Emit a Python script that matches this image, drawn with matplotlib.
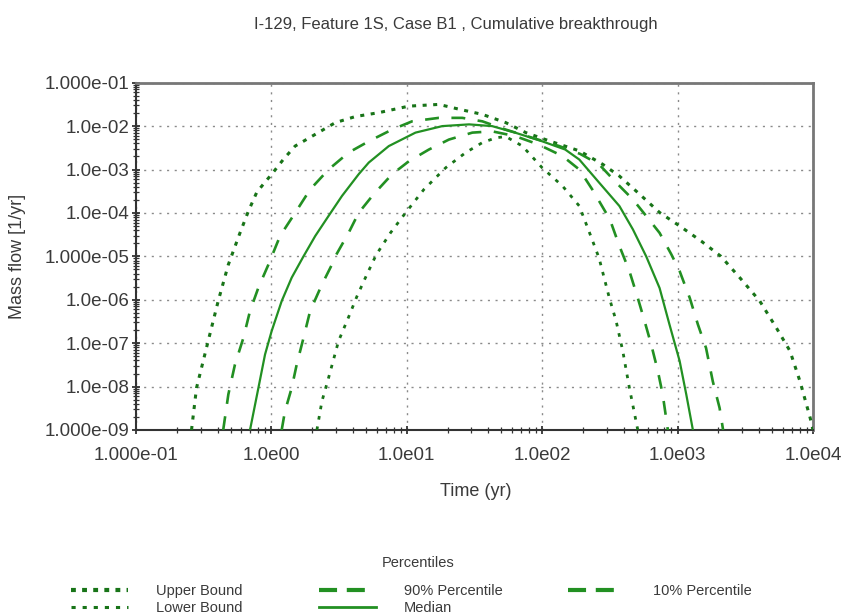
import numpy as np
import matplotlib
matplotlib.use("Agg")
import matplotlib.pyplot as plt
from matplotlib.lines import Line2D

plt.rcParams['font.family'] = ['Liberation Sans', 'DejaVu Sans']
plt.rcParams['lines.scale_dashes'] = False

# ---- data (log10 of time [yr] and log10 of mass flow [1/yr]) ----
upper_logt = [-0.59, -0.553, -0.467, -0.393, -0.318, -0.232, -0.170, -0.109, -0.05, 0.002, 0.09, 0.175, 0.324,
              0.472, 0.62, 0.793, 1.015, 1.237, 1.385, 1.558, 1.731, 1.879, 2.052, 2.274, 2.447,
              2.57, 2.72, 2.867, 3.015, 3.175, 3.32, 3.459, 3.607, 3.73, 3.83, 3.904, 3.979, 4.0]
upper_logq = [-9.0, -8.03, -6.95, -6.03, -5.19, -4.46, -3.96, -3.53, -3.30, -3.11, -2.76, -2.46, -2.19,
              -1.92, -1.78, -1.69, -1.54, -1.50, -1.61, -1.73, -1.92, -2.15, -2.34, -2.57, -2.88,
              -3.15, -3.57, -3.99, -4.30, -4.65, -5.0, -5.49, -6.03, -6.65, -7.18, -7.88, -8.72, -9.0]

lower_logt = [0.336, 0.373, 0.422, 0.496, 0.57, 0.632, 0.699, 0.773, 0.879, 0.99, 1.126, 1.287,
              1.435, 1.558, 1.657, 1.731, 1.854, 2.0, 2.15, 2.274, 2.35, 2.42, 2.496, 2.546,
              2.595, 2.644, 2.706]
lower_logq = [-9.0, -8.34, -7.80, -6.95, -6.40, -5.92, -5.46, -4.97, -4.46, -4.0, -3.46, -2.96,
              -2.61, -2.38, -2.27, -2.24, -2.46, -2.96, -3.38, -3.84, -4.46, -5.04, -5.96, -6.49,
              -7.18, -8.03, -9.0]

median_logt = [-0.158, -0.096, -0.047, 0.002, 0.076, 0.150, 0.237, 0.324, 0.422, 0.521, 0.644,
               0.719, 0.867, 1.064, 1.262, 1.46, 1.63, 1.80, 2.0, 2.17, 2.274, 2.42, 2.57, 2.67,
               2.768, 2.867, 2.94, 3.015, 3.064, 3.113]
median_logq = [-9.0, -8.03, -7.26, -6.72, -6.03, -5.49, -5.0, -4.53, -4.07, -3.61, -3.11,
               -2.84, -2.46, -2.15, -2.0, -1.96, -2.0, -2.15, -2.35, -2.54, -2.77, -3.30, -3.84, -4.38,
               -5.0, -5.73, -6.57, -7.41, -8.18, -9.0]

p90_logt = [-0.356, -0.318, -0.269, -0.207, -0.158, -0.096, -0.022, 0.064, 0.175, 0.286, 0.422,
            0.57, 0.719, 0.891, 1.039, 1.237, 1.41, 1.558, 1.73, 1.928, 2.126, 2.28, 2.42, 2.546, 2.67,
            2.768, 2.867, 2.953, 3.015, 3.09, 3.15, 3.21, 3.26, 3.31, 3.336]
p90_logq = [-9.0, -8.18, -7.49, -6.88, -6.26, -5.72, -5.19, -4.53, -4.0, -3.46, -3.0,
            -2.61, -2.35, -2.08, -1.89, -1.81, -1.81, -1.89, -2.08, -2.27, -2.46, -2.64, -2.88, -3.30, -3.69,
            -4.07, -4.46, -4.95, -5.34, -5.96, -6.57, -7.11, -7.88, -8.49, -9.0]

p10_logt = [0.076, 0.10, 0.150, 0.187, 0.237, 0.286, 0.373, 0.447, 0.472, 0.57, 0.644, 0.755,
            0.891, 1.015, 1.163, 1.311, 1.484, 1.63, 1.80, 1.97, 2.15, 2.274, 2.37, 2.50, 2.57,
            2.644, 2.706, 2.756, 2.805, 2.854, 2.89, 2.928]
p10_logq = [-9.0, -8.57, -8.03, -7.49, -6.88, -6.26, -5.65, -5.19, -5.0, -4.46, -4.0, -3.57,
            -3.11, -2.81, -2.54, -2.31, -2.15, -2.12, -2.23, -2.42, -2.69, -3.0, -3.46, -4.15, -4.76,
            -5.34, -5.96, -6.49, -7.03, -7.64, -8.18, -9.0]

x_ticks = [1e-1, 1e0, 1e1, 1e2, 1e3, 1e4]
x_tick_labels = ["1.000e-01", "1.0e00", "1.0e01", "1.0e02", "1.0e03", "1.0e04"]
y_ticks = [1e-1, 1e-2, 1e-3, 1e-4, 1e-5, 1e-6, 1e-7, 1e-8, 1e-9]
y_tick_labels = ["1.000e-01", "1.0e-02", "1.0e-03", "1.0e-04", "1.000e-05",
                 "1.0e-06", "1.0e-07", "1.0e-08", "1.000e-09"]

title = "I-129, Feature 1S, Case B1 , Cumulative breakthrough"
series_labels = ["Upper Bound", "Lower Bound", "90% Percentile", "Median", "10% Percentile"]

GREEN = "#229022"
DKGREEN = "#187418"
TXT = "#3a3a3a"

W, H = 843, 614
fig = plt.figure(figsize=(W / 100, H / 100), dpi=100)
ax = fig.add_axes([136 / W, 1 - 430 / H, (813 - 136) / W, (430 - 82.7) / H])
ax.set_xscale("log")
ax.set_yscale("log")
ax.set_xlim(1e-1, 1e4)
ax.set_ylim(1e-9, 1e-1)

def tv(a):
    return np.power(10.0, np.asarray(a))

dot_up = (0, (2.9, 4.7))
dot_lo = (0, (2.6, 5.0))
dash = (0, (10.0, 9.0))

ax.plot(tv(upper_logt), tv(upper_logq), color=DKGREEN, lw=2.2, linestyle=dot_up, zorder=3)
ax.plot(tv(lower_logt), tv(lower_logq), color=DKGREEN, lw=2.0, linestyle=dot_lo, zorder=3)
ax.plot(tv(p90_logt), tv(p90_logq), color=GREEN, lw=1.9, linestyle=dash, zorder=3)
ax.plot(tv(p10_logt), tv(p10_logq), color=GREEN, lw=1.9, linestyle=dash, zorder=3)
ax.plot(tv(median_logt), tv(median_logq), color=GREEN, lw=1.6, linestyle="-", zorder=3)

ax.set_xticks(x_ticks)
ax.set_xticklabels(x_tick_labels)
ax.set_yticks(y_ticks)
ax.set_yticklabels(y_tick_labels)
ax.xaxis.set_minor_locator(matplotlib.ticker.LogLocator(base=10, subs=np.arange(2, 10)))
ax.yaxis.set_minor_locator(matplotlib.ticker.LogLocator(base=10, subs=np.arange(2, 10)))
ax.xaxis.set_minor_formatter(matplotlib.ticker.NullFormatter())
ax.yaxis.set_minor_formatter(matplotlib.ticker.NullFormatter())
ax.tick_params(which="major", direction="inout", length=6, width=1.2, color="#222222",
               labelsize=13.5, labelcolor=TXT)
ax.tick_params(axis="y", which="major", pad=2)
ax.tick_params(axis="x", which="major", pad=9)
ax.tick_params(which="minor", direction="inout", length=4, width=0.9, color="#333333")

ax.grid(True, which="major", color="#8a8a8a", lw=1.0, linestyle=(0, (1.5, 4.0)))
ax.set_axisbelow(True)

for side in ["left", "bottom"]:
    ax.spines[side].set_color("#333333")
    ax.spines[side].set_linewidth(1.5)
for side in ["top", "right"]:
    ax.spines[side].set_color("#777777")
    ax.spines[side].set_linewidth(2.0)

fig.text(456 / W, 1 - 25 / H, title, ha="center", va="center", fontsize=12, color=TXT)
ax.set_xlabel("Time (yr)", fontsize=13, color=TXT)
ax.set_ylabel("Mass flow [1/yr]", fontsize=13, color=TXT)
ax.xaxis.set_label_coords((476 - 136) / 677, -(492 - 430) / 347.3)
ax.yaxis.set_label_coords(-(136 - 18) / 677, 0.5)
ax.xaxis.label.set_va("center")
ax.yaxis.label.set_va("center")

# legend
fig.text(418 / W, 1 - 563 / H, "Percentiles", ha="center", va="center", fontsize=10.5, color=TXT)
h_up = Line2D([], [], color=DKGREEN, lw=3.0, linestyle=(0, (3.5, 4.5)))
h_lo = Line2D([], [], color=DKGREEN, lw=2.2, linestyle=(0, (3.0, 5.0)))
h_90 = Line2D([], [], color=GREEN, lw=3.0, linestyle=(0, (13, 7, 13, 20)))
h_md = Line2D([], [], color=GREEN, lw=2.0, linestyle="-")
h_10 = Line2D([], [], color=GREEN, lw=3.0, linestyle=(0, (13, 7, 13, 20)))

leg_kw = dict(frameon=False, fontsize=10.5, labelcolor=TXT, loc="upper left",
              borderpad=0, borderaxespad=0, handletextpad=1.9, labelspacing=0.2,
              handlelength=3.9)
l1 = fig.legend([h_up, h_lo], series_labels[0:2], bbox_to_anchor=(71 / W, 1 - 584 / H), **leg_kw)
l2 = fig.legend([h_90, h_md], series_labels[2:4], bbox_to_anchor=(319 / W, 1 - 584 / H), **leg_kw)
l3 = fig.legend([h_10], series_labels[4:5], bbox_to_anchor=(568 / W, 1 - 584 / H), **leg_kw)

fig.savefig("out.png", dpi=100)
